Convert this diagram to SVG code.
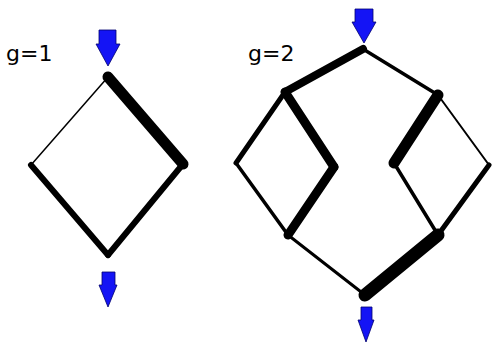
<svg xmlns="http://www.w3.org/2000/svg" width="493" height="343" viewBox="0 0 493 343">
<style>
.e{stroke:#000;fill:none;stroke-linecap:round;stroke-linejoin:round}
.a{fill:#1414f5;stroke:#00006e;stroke-width:0.8}
.t{font-family:"DejaVu Sans",sans-serif;font-size:22px;fill:#000}
</style>
<rect width="493" height="343" fill="#fff"/>
<text class="t" x="6" y="61">g=1</text>
<text class="t" x="248" y="61">g=2</text>
<g id="connectors">
<line class="e" x1="108" y1="77" x2="31" y2="165" stroke-width="1.5"/>
<line class="e" x1="108" y1="77" x2="183" y2="164" stroke-width="11"/>
<line class="e" x1="183" y1="164" x2="108" y2="255" stroke-width="6"/>
<line class="e" x1="31" y1="165" x2="108" y2="255" stroke-width="6"/>
<line class="e" x1="363" y1="49" x2="285" y2="92" stroke-width="8"/>
<line class="e" x1="363" y1="49" x2="438" y2="95" stroke-width="3.5"/>
<line class="e" x1="285" y1="92" x2="236" y2="163" stroke-width="5"/>
<line class="e" x1="285" y1="92" x2="334" y2="167" stroke-width="9"/>
<line class="e" x1="236" y1="163" x2="288" y2="235" stroke-width="3.5"/>
<line class="e" x1="334" y1="167" x2="288" y2="235" stroke-width="9"/>
<line class="e" x1="288" y1="235" x2="365" y2="295" stroke-width="3"/>
<line class="e" x1="438" y1="95" x2="394" y2="163" stroke-width="11"/>
<line class="e" x1="438" y1="95" x2="489" y2="165" stroke-width="2"/>
<line class="e" x1="394" y1="163" x2="438" y2="235" stroke-width="3.5"/>
<line class="e" x1="489" y1="165" x2="438" y2="235" stroke-width="5"/>
<line class="e" x1="438" y1="235" x2="365" y2="295" stroke-width="13"/>
</g>
<g id="arrow-in-1"><polygon class="a" points="99,30 116,30 116,44 120,44 108,66 96,44 99,44"/></g>
<g id="arrow-out-1"><polygon class="a" points="102,272 115,272 115,285 117,285 108,307 99,285 102,285"/></g>
<g id="arrow-in-2"><polygon class="a" points="355,9 373,9 373,22 376,22 364,43 352,22 355,22"/></g>
<g id="arrow-out-2"><polygon class="a" points="361,307 372,307 372,320 374,320 366,342 358,320 361,320"/></g>
</svg>
